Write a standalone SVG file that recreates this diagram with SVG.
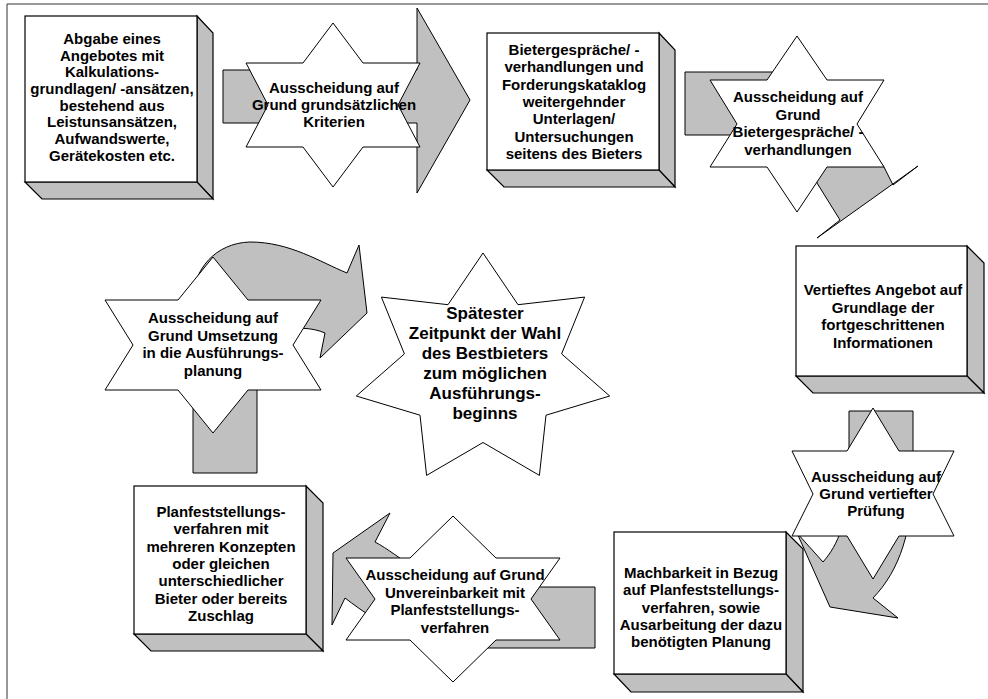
<svg xmlns="http://www.w3.org/2000/svg" width="988" height="699" viewBox="0 0 988 699">
  <style>
    .frame { stroke: #333; stroke-width: 1; fill: none; }
    .arrow { fill: #C0C0C0; stroke: #000; stroke-width: 1; stroke-linejoin: miter; }
    .face { fill: #FFFFFF; stroke: #000; stroke-width: 1.2; }
    .side { fill: #C0C0C0; stroke: #000; stroke-width: 1.2; stroke-linejoin: miter; }
    .star { fill: #FFFFFF; stroke: #000; stroke-width: 1; stroke-linejoin: miter; }
    text { font-family: "Liberation Sans", Arial, sans-serif; font-weight: bold; font-size: 15px; fill: #000; text-anchor: middle; }
    .big { font-size: 17px; }
  </style>
  <rect width="988" height="699" fill="#FFFFFF"/>
  <path class="frame" d="M7,699 V4 H988"/>

  <!-- block arrows -->
  <g id="connectors">
    <path class="arrow" d="M223,70 H417 V8 L470,100 L417,193 V123 H223 Z"/>
    <path class="arrow" d="M685,72 H773 Q850,72 852,124 L884,167 L893,185 L918,166 L817,238 L840,220 L817,183 C812,155 795,135 773,135 H685 Z"/>
    <path class="arrow" d="M849,411 H913 V470 C913,530 900,570 873,598 L898,618 L830,607 L797,533 L823,562 C838,545 849,520 849,470 Z"/>
    <path class="arrow" d="M595,587 H470 C430,587 400,555 375,542 L390,513 L333,553 L332,625 L345,598 C380,625 420,648 470,648 H595 Z"/>
    <path class="arrow" d="M193,473 V300 C193,270 215,243 250,242 C290,242 320,262 347,273 L359,245 L367,313 L320,358 L325,333 C300,322 257,330 257,360 V473 Z"/>
  </g>

  <!-- boxes -->
  <g id="box-abgabe">
    <polygon class="side" points="197,16 213,33 213,199 197,182"/>
    <polygon class="side" points="25,182 197,182 213,199 42,199"/>
    <rect class="face" x="25" y="16" width="172" height="166"/>
    <text x="112" y="44">Abgabe eines</text>
    <text x="112" y="60.7">Angebotes mit</text>
    <text x="112" y="77.3">Kalkulations-</text>
    <text x="112" y="94">grundlagen/ -ansätzen,</text>
    <text x="112" y="110.7">bestehend aus</text>
    <text x="112" y="127.3">Leistunsansätzen,</text>
    <text x="112" y="144">Aufwandswerte,</text>
    <text x="112" y="160.7">Gerätekosten etc.</text>
  </g>

  <g id="box-bietergespraeche">
    <polygon class="side" points="659,33 675,50 675,187 659,170"/>
    <polygon class="side" points="487,170 659,170 675,187 504,187"/>
    <rect class="face" x="487" y="33" width="172" height="137"/>
    <text x="574" y="55">Bietergespräche/ -</text>
    <text x="574" y="72.3">verhandlungen und</text>
    <text x="574" y="89.6">Forderungskataklog</text>
    <text x="574" y="107">weitergehnder</text>
    <text x="574" y="124.3">Unterlagen/</text>
    <text x="574" y="141.6">Untersuchungen</text>
    <text x="574" y="159">seitens des Bieters</text>
  </g>

  <g id="box-vertieftes-angebot">
    <polygon class="side" points="967,246 984,263 984,393 967,376"/>
    <polygon class="side" points="796,376 967,376 984,393 813,393"/>
    <rect class="face" x="796" y="246" width="171" height="130"/>
    <text x="883" y="295">Vertieftes Angebot auf</text>
    <text x="883" y="312.5">Grundlage der</text>
    <text x="883" y="330">fortgeschrittenen</text>
    <text x="883" y="347.5">Informationen</text>
  </g>

  <g id="box-machbarkeit">
    <polygon class="side" points="786,532 803,549 803,692 786,674"/>
    <polygon class="side" points="614,674 786,674 803,692 631,692"/>
    <rect class="face" x="614" y="532" width="172" height="142"/>
    <text x="701" y="578">Machbarkeit in Bezug</text>
    <text x="701" y="595.3">auf Planfeststellungs-</text>
    <text x="701" y="612.6">verfahren, sowie</text>
    <text x="701" y="630">Ausarbeitung der dazu</text>
    <text x="701" y="647.3">benötigten Planung</text>
  </g>

  <g id="box-planfeststellung">
    <polygon class="side" points="306,486 323,503 323,651 306,634"/>
    <polygon class="side" points="134,634 306,634 323,651 151,651"/>
    <rect class="face" x="134" y="486" width="172" height="148"/>
    <text x="221" y="517">Planfeststellungs-</text>
    <text x="221" y="534.3">verfahren mit</text>
    <text x="221" y="551.6">mehreren Konzepten</text>
    <text x="221" y="569">oder gleichen</text>
    <text x="221" y="586.3">unterschiedlicher</text>
    <text x="221" y="603.6">Bieter oder bereits</text>
    <text x="221" y="621">Zuschlag</text>
  </g>

  <!-- elimination stars -->
  <g id="star-kriterien">
    <polygon class="star" points="333,23 363,63 420,63 398,105 420,147 363,147 333,187 303,147 246,147 268,105 246,63 303,63"/>
    <text x="334" y="93">Ausscheidung auf</text>
    <text x="334" y="110">Grund grundsätzlichen</text>
    <text x="334" y="127">Kriterien</text>
  </g>

  <g id="star-bietergespraeche">
    <polygon class="star" points="797,36 827,80 884,80 857,124 884,167 827,167 797,212 767,167 710,167 737,124 710,80 767,80"/>
    <text x="798" y="102">Ausscheidung auf</text>
    <text x="798" y="119.5">Grund</text>
    <text x="798" y="137">Bietergespräche/ -</text>
    <text x="798" y="154.5">verhandlungen</text>
  </g>

  <g id="star-vertiefte-pruefung">
    <polygon class="star" points="873,408 899,451 954,451 933,494 954,536 899,536 873,579 847,536 792,536 813,494 792,451 847,451"/>
    <text x="876" y="482">Ausscheidung auf</text>
    <text x="876" y="499">Grund vertiefter</text>
    <text x="876" y="516">Prüfung</text>
  </g>

  <g id="star-unvereinbarkeit">
    <polygon class="star" points="453,516 496,558 560,558 531,599 560,640 496,640 453,682 410,640 346,640 375,599 346,558 410,558"/>
    <text x="455" y="580">Ausscheidung auf Grund</text>
    <text x="455" y="597.5">Unvereinbarkeit mit</text>
    <text x="455" y="615">Planfeststellungs-</text>
    <text x="455" y="632.5">verfahren</text>
  </g>

  <g id="star-umsetzung">
    <polygon class="star" points="213,257 248,300 321,300 293,345 321,390 248,390 213,433 178,390 105,390 133,345 105,300 178,300"/>
    <text x="213" y="323">Ausscheidung auf</text>
    <text x="213" y="340.5">Grund Umsetzung</text>
    <text x="213" y="358">in die Ausführungs-</text>
    <text x="213" y="375.5">planung</text>
  </g>

  <g id="star-bestbieter">
    <polygon class="star" points="483,253 518,304.7 584.6,297.1 561.6,353.9 609.7,396 546,415.2 539.4,475.4 483,442.5 426.6,475.4 420,415.2 356.3,396 404.4,353.9 381.4,297.1 448,304.7"/>
    <text class="big" x="485" y="319">Spätester</text>
    <text class="big" x="485" y="339">Zeitpunkt der Wahl</text>
    <text class="big" x="485" y="359">des Bestbieters</text>
    <text class="big" x="485" y="379">zum möglichen</text>
    <text class="big" x="485" y="399">Ausführungs-</text>
    <text class="big" x="485" y="419">beginns</text>
  </g>
</svg>
